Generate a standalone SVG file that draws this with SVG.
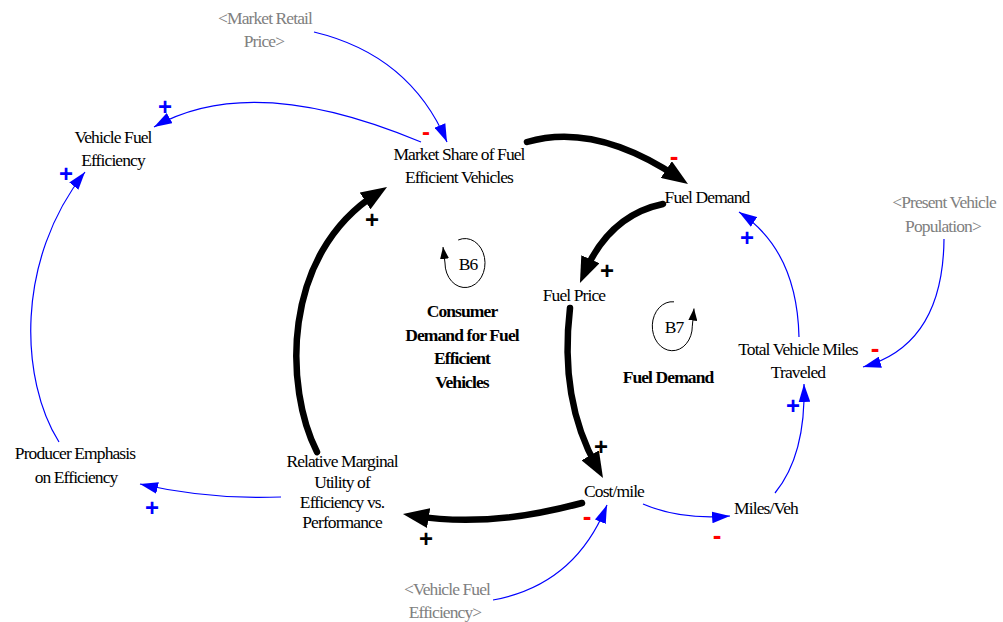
<svg xmlns="http://www.w3.org/2000/svg" width="1003" height="622" viewBox="0 0 1003 622">
<style>
.t{font-family:'Liberation Serif','Tinos','DejaVu Serif','Times New Roman',serif;font-size:17.5px;letter-spacing:-0.9px;text-anchor:middle;fill:#000}
.g{fill:#808080}
.bd{font-weight:bold}
.thick{fill:none;stroke:#000;stroke-width:6.5;stroke-linecap:round}
.thin{fill:none;stroke:#0000ff;stroke-width:1.2}
.loop{fill:none;stroke:#000;stroke-width:1}
.sg{font-family:'Liberation Sans',Arial,sans-serif;font-weight:bold;text-anchor:middle}
.p{font-size:24px}
.m{font-size:26px;fill:#ff0000}
.bl{fill:#0000ff}
.bk{fill:#000}
</style>
<defs>
<marker id="ab" markerUnits="userSpaceOnUse" markerWidth="18" markerHeight="12" viewBox="0 0 17 11" refX="17" refY="5.5" orient="auto"><path d="M0,0 L17,5.5 L0,11 z" fill="#0000ff"/></marker>
<marker id="ak" markerUnits="userSpaceOnUse" markerWidth="26" markerHeight="20" viewBox="0 0 26 20" refX="14" refY="10" orient="auto"><path d="M0,0 L26,10 L0,20 z" fill="#000"/></marker>
<marker id="al" markerUnits="userSpaceOnUse" markerWidth="12" markerHeight="9" viewBox="0 0 12 9" refX="12" refY="4.5" orient="auto"><path d="M0,0 L12,4.5 L0,9 z" fill="#000"/></marker>
</defs>
<rect width="1003" height="622" fill="#fff"/>
<g id="connectors">
<path id="c1" class="thick" d="M527,142 Q595,122 678,177.3" marker-end="url(#ak)"/>
<path id="c2" class="thick" d="M663,204 Q610,215 584.8,272" marker-end="url(#ak)"/>
<path id="c3" class="thick" d="M570,308 Q559,400 597.1,467.5" marker-end="url(#ak)"/>
<path id="c4" class="thick" d="M582,503 Q490,528 414.8,515.9" marker-end="url(#ak)"/>
<path id="c5" class="thick" d="M317,452 C285,390 280,255 376.9,193.4" marker-end="url(#ak)"/>
<path id="c6" class="thin" d="M421,142 Q252,71 154,127" marker-end="url(#ab)"/>
<path id="c7" class="thin" d="M314,32 Q410,55 447,142" marker-end="url(#ab)"/>
<path id="c8" class="thin" d="M59,442 C20,380 15,260 85,172" marker-end="url(#ab)"/>
<path id="c9" class="thin" d="M281,497 Q210,500 140,484" marker-end="url(#ab)"/>
<path id="c10" class="thin" d="M799,337 Q797,250 739,212" marker-end="url(#ab)"/>
<path id="c11" class="thin" d="M944,239 Q943,345 863,367" marker-end="url(#ab)"/>
<path id="c12" class="thin" d="M775,493 Q806,455 804,384" marker-end="url(#ab)"/>
<path id="c13" class="thin" d="M643,504 Q680,520 730,516" marker-end="url(#ab)"/>
<path id="c14" class="thin" d="M493,600 Q575,585 607,505" marker-end="url(#ab)"/>
</g>
<g id="polarities">
<text class="sg p bl" x="165" y="115">+</text>
<text class="sg p bl" x="66" y="182">+</text>
<text class="sg p bl" x="747" y="246">+</text>
<text class="sg p bl" x="793" y="414">+</text>
<text class="sg p bl" x="152" y="516">+</text>
<text class="sg p bk" x="372" y="228">+</text>
<text class="sg p bk" x="607" y="279">+</text>
<text class="sg p bk" x="601" y="455">+</text>
<text class="sg p bk" x="426" y="547">+</text>
<text class="sg m" x="426" y="140" style="font-size:24px">-</text>
<text class="sg m" x="674" y="165">-</text>
<text class="sg m" x="875" y="357">-</text>
<text class="sg m" x="587" y="525">-</text>
<text class="sg m" x="717" y="544">-</text>
</g>
<g id="market_retail_price"><text class="t g" x="265" y="24">&lt;Market Retail</text><text class="t g" x="264" y="47">Price&gt;</text></g>
<g id="vehicle_fuel_efficiency"><text class="t" x="113" y="143">Vehicle Fuel</text><text class="t" x="113" y="166">Efficiency</text></g>
<g id="market_share"><text class="t" x="459" y="160">Market Share of Fuel</text><text class="t" x="459" y="183">Efficient Vehicles</text></g>
<g id="fuel_demand"><text class="t" x="707" y="203">Fuel Demand</text></g>
<g id="present_vehicle_population"><text class="t g" x="944" y="208">&lt;Present Vehicle</text><text class="t g" x="943" y="232">Population&gt;</text></g>
<g id="fuel_price"><text class="t" x="574" y="301">Fuel Price</text></g>
<g id="total_vmt"><text class="t" x="798" y="355">Total Vehicle Miles</text><text class="t" x="798" y="378">Traveled</text></g>
<g id="producer_emphasis"><text class="t" x="75" y="459">Producer Emphasis</text><text class="t" x="76" y="483">on Efficiency</text></g>
<g id="relative_marginal_utility"><text class="t" x="342" y="467">Relative Marginal</text><text class="t" x="342" y="488">Utility of</text><text class="t" x="342" y="508">Efficiency vs.</text><text class="t" x="342" y="528">Performance</text></g>
<g id="cost_mile"><text class="t" x="614" y="497">Cost/mile</text></g>
<g id="miles_veh"><text class="t" x="766" y="514">Miles/Veh</text></g>
<g id="vehicle_fuel_efficiency_shadow"><text class="t g" x="447" y="595">&lt;Vehicle Fuel</text><text class="t g" x="445" y="618">Efficiency&gt;</text></g>
<g id="loop_b6">
<path class="loop" d="M458.2,240 A20,24.5 0 1,1 445,263 L443,247" marker-end="url(#al)"/>
<text class="t" x="468" y="270">B6</text>
<text class="t bd" x="462" y="317">Consumer</text>
<text class="t bd" x="462" y="341">Demand for Fuel</text>
<text class="t bd" x="462" y="364">Efficient</text>
<text class="t bd" x="462" y="388">Vehicles</text>
</g>
<g id="loop_b7">
<path class="loop" d="M674,301.8 A20,24.5 0 1,0 692.3,326.2 L694,308.5" marker-end="url(#al)"/>
<text class="t" x="674" y="333">B7</text>
<text class="t bd" x="668" y="383">Fuel Demand</text>
</g>
</svg>
